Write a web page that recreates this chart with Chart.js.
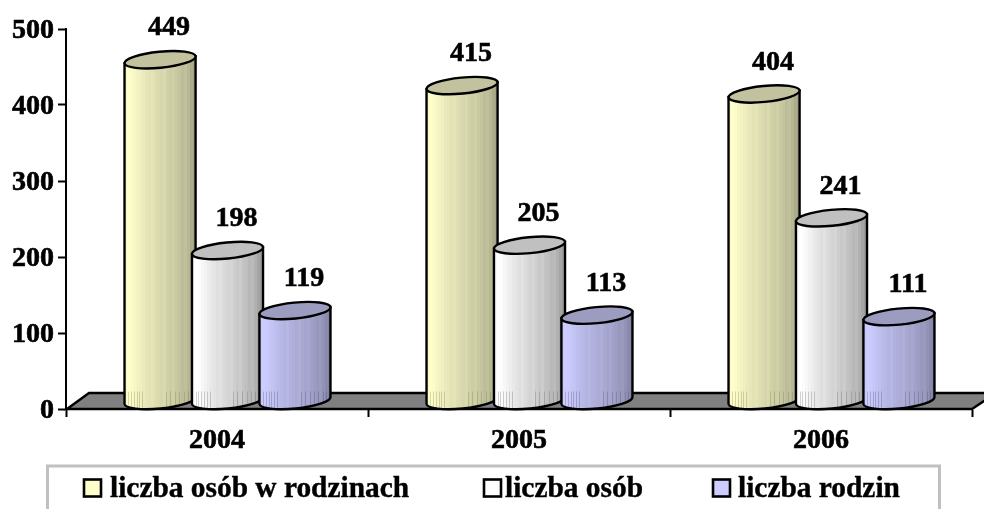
<!DOCTYPE html>
<html><head><meta charset="utf-8">
<style>html,body{margin:0;padding:0;background:#fff;overflow:hidden}canvas{display:block}</style>
<script src="https://cdn.jsdelivr.net/npm/chart.js@4"></script></head>
<body><canvas id="c" width="984" height="509"></canvas>
<script>
const categories = ['2004','2005','2006'];
const osobyWRodzinach = [449,415,404];
const osoby = [198,205,241];
const rodziny = [119,113,111];
const seriesNames = ['liczba osób w rodzinach','liczba osób','liczba rodzin'];
const yTicks = [0,100,200,300,400,500];

const FONT = 'bold 28px "Liberation Serif"';
const LEGEND_FONT = 'bold 29.4px "Liberation Serif"';
const looks = [
 {swatch:'#ffffcc',top:'#c2c29e',light:[255,255,204],dark:[160,160,130],streak:'rgba(110,110,70,.28)'},
 {swatch:'#ffffff',top:'#c0c0c0',light:[255,255,255],dark:[152,152,152],streak:'rgba(90,90,90,.28)'},
 {swatch:'#ccccff',top:'#9c9cc0',light:[204,204,255],dark:[128,128,160],streak:'rgba(70,70,110,.28)'}
];
const bands=[.05,.0,.03,.08,.13,.17,.22,.26,.31,.28,.35,.39,.43,.40,.48,.53,.50,.58,.62,.69,.66,.76,.87,.97];
const streakX=[.05,.09,.13,.17,.21,.25,.58,.64,.71,.77,.83,.89,.94];
const SHIFT=10.5, DEPTH=8, RX=35.7, RY=8, ROT=-0.098;

const cylinders = {
 id:'cylinders',
 afterUpdate(chart){
  chart.scales.y.getLabelItems().forEach(it=>{it.options.translation=[it.options.translation[0],it.options.translation[1]+2];});
 },
 beforeDatasetsDraw(chart){
  const {ctx,chartArea:a}=chart;
  ctx.save();
  ctx.beginPath();
  ctx.moveTo(a.left+1,a.bottom);ctx.lineTo(a.left+23,a.bottom-16);ctx.lineTo(a.right+24,a.bottom-16);ctx.lineTo(a.right,a.bottom);ctx.closePath();
  ctx.fillStyle='#808080';ctx.fill();
  ctx.strokeStyle='#000';ctx.lineWidth=2.4;ctx.stroke();
  ctx.restore();
 },
 afterDatasetsDraw(chart){
  const {ctx}=chart;
  ctx.save();
  chart.data.datasets.forEach((ds,i)=>{
   chart.getDatasetMeta(i).data.forEach((el,j)=>{
    const cx=el.x+SHIFT, ty=el.y-DEPTH, by=el.base-DEPTH;
    const dx=RX*Math.cos(ROT), dy=RX*Math.sin(ROT);
    const L=looks[i];
    const g=ctx.createLinearGradient(cx-dx,0,cx+dx,0);
    bands.forEach((v,k)=>{
     const c='rgb('+[0,1,2].map(n=>Math.round(L.light[n]+(L.dark[n]-L.light[n])*v)).join(',')+')';
     g.addColorStop(k/bands.length,c);g.addColorStop((k+1)/bands.length,c);
    });
    const body=()=>{
     ctx.beginPath();
     ctx.moveTo(cx-dx,ty-dy);
     ctx.lineTo(cx-dx,by-dy);
     ctx.ellipse(cx,by,RX,RY,ROT,Math.PI,0,true);
     ctx.lineTo(cx+dx,ty+dy);
     ctx.closePath();
    };
    body();ctx.fillStyle=g;ctx.fill();
    ctx.save();body();ctx.clip();
    ctx.strokeStyle=L.streak;ctx.lineWidth=1;
    streakX.forEach(f=>{const x=Math.round(cx-dx+2*dx*f)+.5;ctx.beginPath();ctx.moveTo(x,by-9);ctx.lineTo(x,by+10);ctx.stroke();});
    ctx.restore();
    body();ctx.strokeStyle='#000';ctx.lineWidth=2.4;ctx.stroke();
    ctx.beginPath();
    ctx.ellipse(cx,ty,RX,RY,ROT,0,Math.PI*2);
    ctx.fillStyle=L.top;ctx.fill();ctx.stroke();
    ctx.font=FONT;ctx.fillStyle='#000';ctx.strokeStyle='#000';ctx.lineWidth=.6;ctx.textAlign='center';ctx.textBaseline='middle';
    ctx.strokeText(String(ds.data[j]),cx+9,ty-31.5);
    ctx.fillText(String(ds.data[j]),cx+9,ty-31.5);
   });
  });
  ctx.restore();
 },
 afterDraw(chart){
  const {ctx}=chart;
  ctx.save();
  ctx.strokeStyle='#c0c0c0';ctx.lineWidth=3;
  ctx.beginPath();ctx.moveTo(47.5,509);ctx.lineTo(47.5,466);ctx.lineTo(939.5,466);ctx.lineTo(939.5,509);ctx.stroke();
  const sx=[84,484,713], tx=[110,505,738];
  ctx.textAlign='left';ctx.textBaseline='alphabetic';
  seriesNames.forEach((n,i)=>{
   ctx.fillStyle=looks[i].swatch;ctx.strokeStyle='#000';ctx.lineWidth=2.6;
   ctx.fillRect(sx[i],479.5,17,17);ctx.strokeRect(sx[i],479.5,17,17);
   ctx.font=LEGEND_FONT;ctx.fillStyle='#000';ctx.lineWidth=.4;
   ctx.strokeText(n,tx[i],497);ctx.fillText(n,tx[i],497);
  });
  ctx.restore();
 }
};

const tickFont={family:'"Liberation Serif"',size:28,weight:'bold'};
new Chart(document.getElementById('c'),{
 type:'bar',
 data:{labels:categories,datasets:[osobyWRodzinach,osoby,rodziny].map((d,i)=>({label:seriesNames[i],data:d,backgroundColor:'rgba(0,0,0,0)',borderWidth:0,barPercentage:1,categoryPercentage:0.67}))},
 options:{
  responsive:false,animation:false,
  layout:{padding:{top:29,left:0,right:12,bottom:0}},
  plugins:{legend:{display:false},tooltip:{enabled:false},title:{display:false}},
  scales:{
   x:{grid:{drawOnChartArea:false,tickLength:8,tickColor:'#000',tickWidth:2},border:{color:'#000',width:2},
      ticks:{color:'#000',font:tickFont,padding:7,maxRotation:0,textStrokeColor:'#000',textStrokeWidth:.6},
      afterFit(s){s.height=100;}},
   y:{min:0,max:500,afterBuildTicks(s){s.ticks=yTicks.map(v=>({value:v}));},
      grid:{drawOnChartArea:false,tickLength:8,tickColor:'#000',tickWidth:2},border:{color:'#000',width:2},
      ticks:{color:'#000',font:tickFont,padding:4,textStrokeColor:'#000',textStrokeWidth:.6},
      afterFit(s){s.width=66;}}
  }
 },
 plugins:[cylinders]
});
</script></body></html>
